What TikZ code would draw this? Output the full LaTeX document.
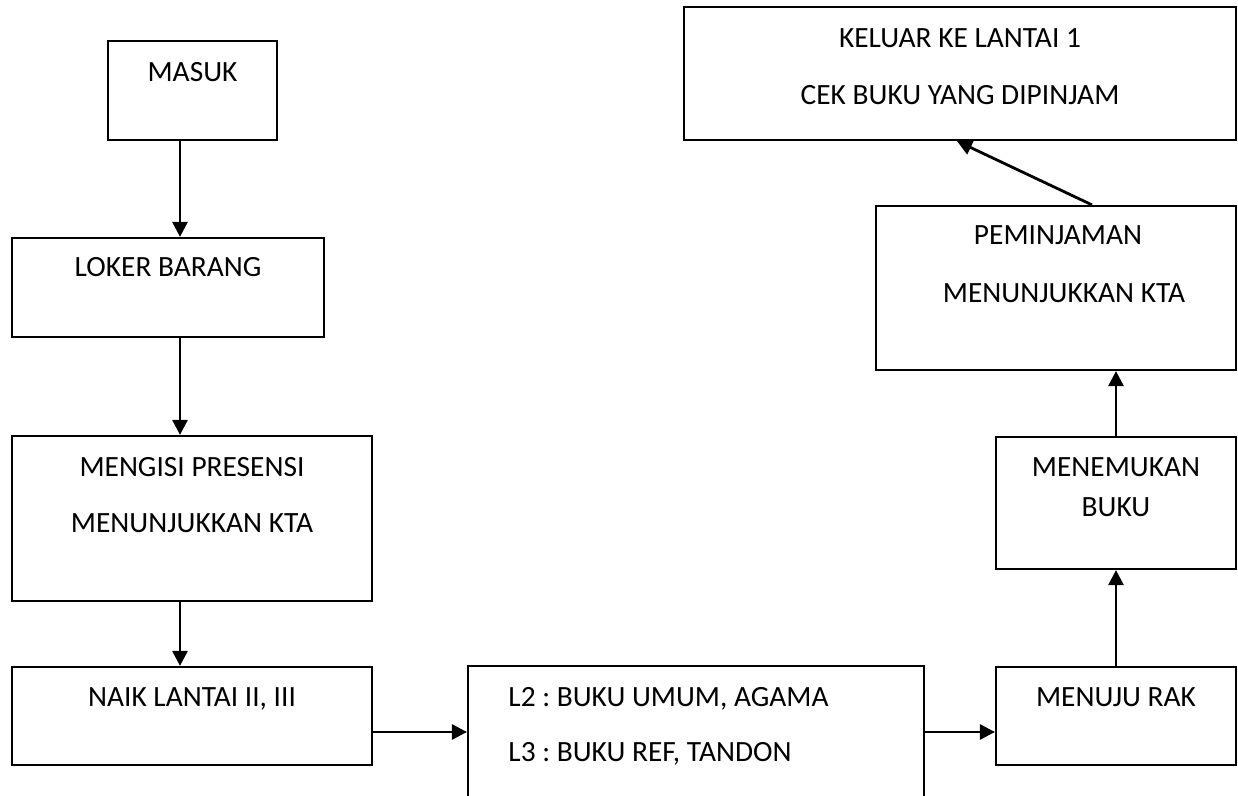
\documentclass[tikz,border=0pt]{standalone}
\usepackage{fontspec}
\setmainfont{Carlito}
\usetikzlibrary{arrows.meta}
\frenchspacing
\tikzset{
  box/.style={draw=black, line width=1.1pt, fill=white, inner sep=0pt, rectangle},
  lbl/.style={font=\fontsize{14.7pt}{17pt}\selectfont, text height=9.45pt, text depth=0pt, inner sep=0pt},
  arr/.style={line width=1.4pt, -{Triangle[length=7.5pt, width=7.5pt]}}
}
\begin{document}
\begin{tikzpicture}[x=0.5pt, y=-0.5pt]
\path[use as bounding box] (0,0) rectangle (1238,796);
\clip (0,0) rectangle (1238,796);
\fill[white] (0,0) rectangle (1238,796);

% boxes
\node[box, minimum width=84.5pt, minimum height=49.5pt] (masuk) at (192.5,90.5) {};
\node[box, minimum width=156pt, minimum height=49.5pt] (loker) at (168,287.5) {};
\node[box, minimum width=180pt, minimum height=82.5pt] (mengisi) at (192,518.5) {};
\node[box, minimum width=180pt, minimum height=49pt] (naik) at (192,716) {};
\node[box, minimum width=228pt, minimum height=82pt] (lt) at (696,748) {};
\node[box, minimum width=120pt, minimum height=49pt] (menuju) at (1116,716) {};
\node[box, minimum width=120pt, minimum height=66pt] (temu) at (1116,503) {};
\node[box, minimum width=180pt, minimum height=82pt] (pinjam) at (1056,288) {};
\node[box, minimum width=276pt, minimum height=66.5pt] (keluar) at (960,73.5) {};

% texts
\node[lbl] (tmasuk) at (192.5,72) {MASUK};
\node[lbl] (tloker) at (168,267) {LOKER BARANG};
\node[lbl] (tmeng1) at (192,467) {MENGISI PRESENSI};
\node[lbl] (tmeng2) at (192,523) {MENUNJUKKAN KTA};
\node[lbl] (tnaik) at (192,697) {NAIK LANTAI II, III};
\node[lbl, anchor=west] (tl2) at (508,697) {L2 : BUKU UMUM, AGAMA};
\node[lbl, anchor=west] (tl3) at (508,752) {L3 : BUKU REF, TANDON};
\node[lbl] (tmenuju) at (1116,697) {MENUJU RAK};
\node[lbl] (ttemu1) at (1116,467) {MENEMUKAN};
\node[lbl] (ttemu2) at (1116,507) {BUKU};
\node[lbl] (tpin1) at (1058,235) {PEMINJAMAN};
\node[lbl] (tpin2) at (1064,293) {MENUNJUKKAN KTA};
\node[lbl] (tkel1) at (960,38) {KELUAR KE LANTAI 1};
\node[lbl] (tkel2) at (960,95) {CEK BUKU YANG DIPINJAM};

% helper coordinates
\coordinate (ax) at (180,0);
\coordinate (ay) at (0,732);
\coordinate (dxa) at (1092,0);
\coordinate (dxb) at (957,0);

% connectors
\draw[arr] (masuk.south -| ax) -- (loker.north -| ax);
\draw[arr] (loker.south -| ax) -- (mengisi.north -| ax);
\draw[arr] (mengisi.south -| ax) -- (naik.north -| ax);
\draw[arr] (naik.east |- ay) -- (lt.west |- ay);
\draw[arr] (lt.east |- ay) -- (menuju.west |- ay);
\draw[arr] (menuju.north) -- (temu.south);
\draw[arr] (temu.north) -- (pinjam.south -| temu.north);
\draw[arr] (pinjam.north -| dxa) -- (keluar.south -| dxb);
\end{tikzpicture}
\end{document}
